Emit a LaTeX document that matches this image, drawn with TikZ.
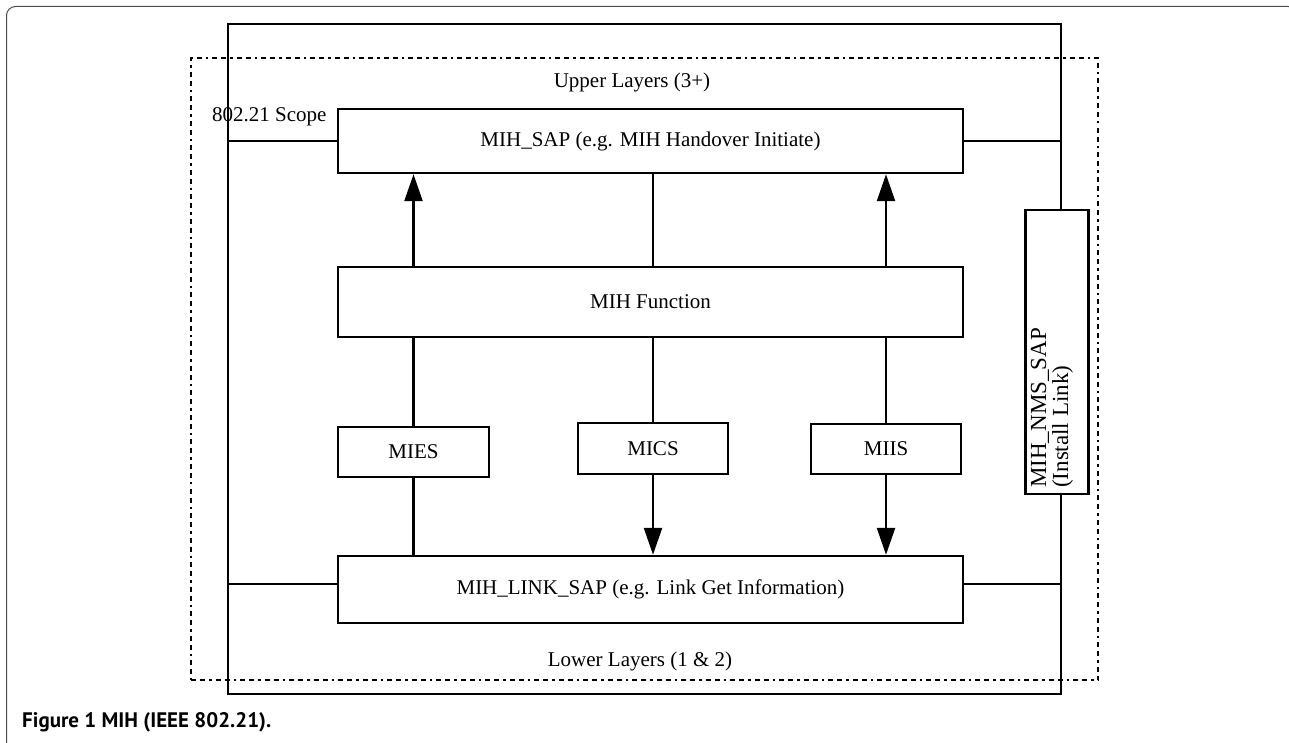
\documentclass[tikz,border=0pt]{standalone}
\usepackage{fontspec}
\setmainfont{Liberation Serif}
\newfontfamily\capfont{PT Sans}
\usetikzlibrary{arrows.meta}
\tikzset{
  blk/.style={draw, line width=2.5pt, fill=white, inner sep=0pt, font=\fontsize{21}{23}\selectfont},
  conn/.style={line width=2.5pt},
  arr/.style={line width=2.5pt, -{Triangle[length=27pt,width=18pt]}},
  lbl/.style={font=\fontsize{21}{23}\selectfont, inner sep=0pt},
  scopebox/.style={line width=2.5pt, dash pattern=on 5pt off 4pt on 5pt off 4pt on 2.5pt off 4pt},
}
\begin{document}
\begin{tikzpicture}[x=1pt,y=-1pt]
\useasboundingbox (0,0) rectangle (1289,743);
\begin{scope}
\clip (0,0) rectangle (1289,743);
\draw[gray!60!black, line width=1pt, rounded corners=9pt] (6.5,770) -- (6.5,6.5) -- (1297,6.5) -- (1297,770);
\end{scope}
% scope (dashed) and outer solid box
\node (scopeb) [scopebox, draw, minimum width=907pt, minimum height=622pt, inner sep=0pt] at (644.5,369) {};
\node (outer) [draw, line width=2.5pt, minimum width=833pt, minimum height=670pt, inner sep=0pt] at (644.5,359) {};
% texts
\node (upper) [lbl] at (632,82) {Upper Layers (3+)};
\node (lower) [lbl] at (640,661) {Lower Layers (1 \& 2)};
\node (scopelbl) [lbl, anchor=west] at (212,117) {802.21 Scope};
% main blocks
\node (sap) [blk, minimum width=625pt, minimum height=64pt] at (650.5,141) {MIH\_SAP (e.g. MIH Handover Initiate)};
\node (func) [blk, minimum width=625pt, minimum height=70pt] at (650.5,302) {MIH Function};
\node (mies) [blk, minimum width=151pt, minimum height=50pt] at (413.5,452) {MIES};
\node (mics) [blk, minimum width=150pt, minimum height=51pt] at (653,448.5) {MICS};
\node (miis) [blk, minimum width=150pt, minimum height=50pt] at (886,449) {MIIS};
\node (link) [blk, minimum width=625pt, minimum height=67pt] at (650.5,589.5) {MIH\_LINK\_SAP (e.g. Link Get Information)};
\node (nms) [draw, line width=2.5pt, fill=white, minimum width=63pt, minimum height=284pt, inner sep=0pt] at (1057,352) {};
\node (nmstext) [inner sep=0pt, font=\fontsize{23}{22}\selectfont, rotate=90, anchor=west, align=left] at (1052,488) {MIH\_NMS\_SAP\\(Install Link)};
% connectors
\draw[conn] (sap.west -| outer.west) -- (sap.west);
\draw[conn] (sap.east) -- (sap.east -| outer.east);
\draw[conn] ([yshift=5.5pt]link.west -| outer.west) -- ([yshift=5.5pt]link.west);
\draw[conn] ([yshift=5.5pt]link.east) -- ([yshift=5.5pt]link.east -| outer.east);
\draw[arr] (func.north -| mies) -- (sap.south -| mies);
\draw[conn] (sap.south -| mics) -- (func.north -| mics);
\draw[arr] (func.north -| miis) -- (sap.south -| miis);
\draw[conn] (func.south -| mies) -- (mies.north);
\draw[conn] (mies.south) -- (link.north -| mies);
\draw[conn] (func.south -| mics) -- (mics.north);
\draw[arr] (mics.south) -- (link.north -| mics);
\draw[conn] (func.south -| miis) -- (miis.north);
\draw[arr] (miis.south) -- (link.north -| miis);
% caption
\node (caption) [anchor=base west, inner sep=0pt, font=\capfont\bfseries\fontsize{21}{24}\selectfont] at (22,727) {Figure 1 MIH (IEEE 802.21).};
\end{tikzpicture}
\end{document}
